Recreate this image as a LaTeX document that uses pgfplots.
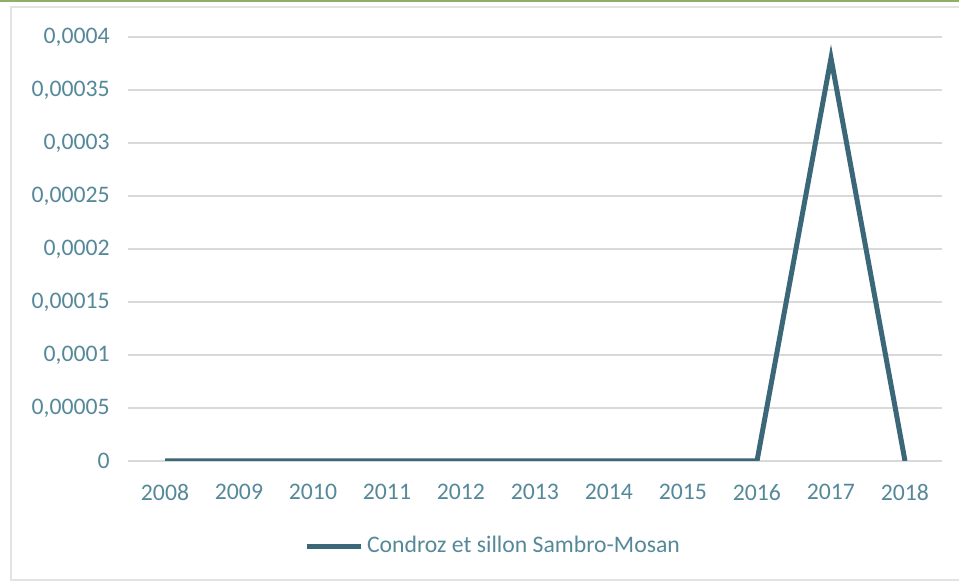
\documentclass[border=0pt]{standalone}
\usepackage{pgfplots}
\pgfplotsset{compat=1.18}
\usepackage{fontspec}
\setmainfont{Carlito}
\definecolor{linec}{HTML}{3B6878}
\definecolor{txtc}{HTML}{55899A}
\definecolor{gridc}{HTML}{D9D9D9}
\definecolor{frame}{HTML}{E3E3E3}
\definecolor{topg}{HTML}{8FAE68}
\begin{document}
\fontsize{11.9}{14}\selectfont
\begin{tikzpicture}
\path[use as bounding box] (0,0) rectangle (479.5bp,290.5bp);
\fill[white] (0,0) rectangle (479.5bp,290.5bp);
\draw[frame, line width=1bp] (5.5bp,0.5bp) rectangle (485bp,287bp);
\fill[topg] (0,289.5bp) rectangle (479.5bp,290.5bp);
\begin{axis}[
  at={(64bp,60bp)}, anchor=south west,
  scale only axis, width=407bp, height=212bp,
  xmin=2007.5, xmax=2018.5, ymin=0, ymax=0.0004,
  axis line style={draw=none},
  tick style={draw=none},
  ymajorgrids, grid style={gridc, line width=0.75bp},
  xtick={2008,...,2018},
  xticklabels={2008,2009,2010,2011,2012,2013,2014,2015,2016,2017,2018},
  ytick={0,0.00005,0.0001,0.00015,0.0002,0.00025,0.0003,0.00035,0.0004},
  yticklabels={{0},{0,00005},{0,0001},{0,00015},{0,0002},{0,00025},{0,0003},{0,00035},{0,0004}},
  scaled y ticks=false,
  ticklabel style={font=\fontsize{11.9}{14}\selectfont, text=txtc},
  yticklabel style={xshift=-5bp},
  xticklabel style={yshift=-7.5bp},
  legend style={at={(0.4496,-0.2005)}, anchor=center, draw=none, fill=none,
    font=\fontsize{11.9}{14}\selectfont, text=txtc, inner sep=0pt},
  legend image code/.code={\draw[#1, line width=2.5bp] (0,0) -- (27bp,0);},
  legend cell align=left,
]
\addplot[linec, line width=2.5bp] coordinates {
(2008,0) (2009,0) (2010,0) (2011,0) (2012,0) (2013,0) (2014,0) (2015,0) (2016,0) (2017,0.00038) (2018,0)};
\addlegendentry{Condroz et sillon Sambro-Mosan}
\end{axis}
\end{tikzpicture}
\end{document}
